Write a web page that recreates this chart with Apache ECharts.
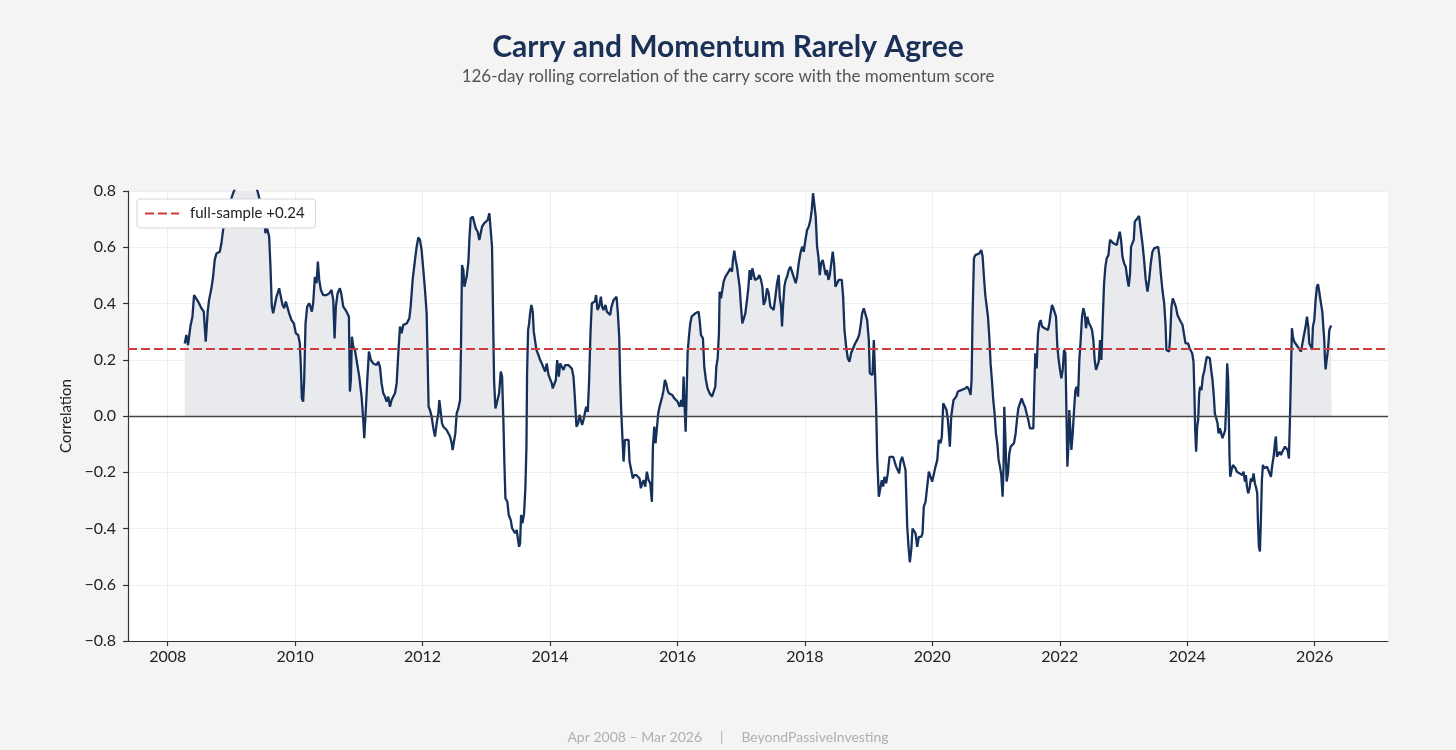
<!DOCTYPE html>
<html>
<head>
<meta charset="utf-8">
<title>Carry and Momentum Rarely Agree</title>
<script src="https://cdn.jsdelivr.net/npm/echarts@6/dist/echarts.min.js"></script>
<style>
  html, body { margin: 0; padding: 0; background: #f4f4f4; }
  #chart { width: 1456px; height: 750px; }
</style>
</head>
<body>
<div id="chart"></div>
<script>
// dates as decimal years
const years = [
  2008.267, 2008.293, 2008.319, 2008.335, 2008.356, 2008.388, 2008.414, 2008.440, 2008.477, 2008.529,
  2008.566, 2008.587, 2008.597, 2008.613, 2008.628, 2008.649, 2008.670, 2008.686, 2008.712, 2008.738,
  2008.765, 2008.817, 2008.843, 2008.869, 2008.922, 2008.974, 2009.026, 2009.079, 2009.158, 2009.236,
  2009.314, 2009.382, 2009.419, 2009.456, 2009.498, 2009.534, 2009.561, 2009.592, 2009.613, 2009.634,
  2009.655, 2009.681, 2009.707, 2009.749, 2009.775, 2009.802, 2009.828, 2009.854, 2009.875, 2009.906,
  2009.943, 2009.980, 2010.011, 2010.048, 2010.074, 2010.090, 2010.105, 2010.126, 2010.142, 2010.163,
  2010.189, 2010.220, 2010.241, 2010.262, 2010.283, 2010.310, 2010.336, 2010.357, 2010.378, 2010.404,
  2010.440, 2010.493, 2010.535, 2010.571, 2010.598, 2010.619, 2010.639, 2010.666, 2010.702, 2010.728,
  2010.755, 2010.781, 2010.807, 2010.844, 2010.859, 2010.875, 2010.891, 2010.912, 2010.938, 2010.964,
  2011.006, 2011.043, 2011.069, 2011.085, 2011.106, 2011.132, 2011.158, 2011.189, 2011.226, 2011.252,
  2011.278, 2011.305, 2011.331, 2011.357, 2011.383, 2011.409, 2011.436, 2011.462, 2011.488, 2011.514,
  2011.540, 2011.567, 2011.593, 2011.619, 2011.645, 2011.671, 2011.697, 2011.750, 2011.792, 2011.813,
  2011.844, 2011.881, 2011.907, 2011.933, 2011.959, 2011.985, 2012.012, 2012.038, 2012.064,
  2012.095, 2012.116, 2012.142, 2012.169, 2012.195, 2012.221, 2012.247, 2012.263, 2012.284, 2012.305,
  2012.326, 2012.352, 2012.378, 2012.404, 2012.431, 2012.457, 2012.472, 2012.493, 2012.514, 2012.535,
  2012.561, 2012.588, 2012.603, 2012.619, 2012.640, 2012.656, 2012.677, 2012.692, 2012.719, 2012.734,
  2012.755, 2012.787, 2012.813, 2012.834, 2012.865, 2012.891, 2012.912, 2012.933, 2012.965, 2012.996,
  2013.022, 2013.048, 2013.069, 2013.090, 2013.106, 2013.122, 2013.143, 2013.164, 2013.185, 2013.201,
  2013.227, 2013.248, 2013.268, 2013.284, 2013.300, 2013.331, 2013.352, 2013.384, 2013.405, 2013.425,
  2013.452, 2013.478, 2013.494, 2013.515, 2013.530, 2013.546, 2013.567, 2013.593, 2013.614, 2013.630,
  2013.640, 2013.656, 2013.672, 2013.687, 2013.708, 2013.729, 2013.745, 2013.766, 2013.787, 2013.818,
  2013.845, 2013.871, 2013.897, 2013.923, 2013.949, 2013.976, 2014.002, 2014.028, 2014.043, 2014.070,
  2014.091, 2014.112, 2014.138, 2014.159, 2014.185, 2014.211, 2014.237, 2014.263, 2014.290, 2014.316,
  2014.342, 2014.368, 2014.389, 2014.415, 2014.442, 2014.463, 2014.483, 2014.504, 2014.525, 2014.546,
  2014.567, 2014.593, 2014.614, 2014.635, 2014.656, 2014.683, 2014.703, 2014.724, 2014.745, 2014.771,
  2014.798, 2014.818, 2014.839, 2014.871, 2014.892, 2014.918, 2014.944, 2014.965, 2014.997, 2015.023,
  2015.044, 2015.065, 2015.086, 2015.101, 2015.117, 2015.138, 2015.154, 2015.175, 2015.206, 2015.232,
  2015.248, 2015.274, 2015.300, 2015.321, 2015.353, 2015.384, 2015.405, 2015.426, 2015.447, 2015.468,
  2015.494, 2015.520, 2015.547, 2015.573, 2015.599, 2015.615, 2015.636, 2015.656, 2015.677, 2015.698,
  2015.719, 2015.740, 2015.761, 2015.782, 2015.803, 2015.824, 2015.845, 2015.866, 2015.887, 2015.918,
  2015.950, 2015.981, 2016.002, 2016.034,
  2016.060, 2016.081, 2016.096, 2016.107, 2016.117, 2016.128, 2016.143, 2016.159, 2016.180, 2016.201,
  2016.222, 2016.253, 2016.280, 2016.306, 2016.332, 2016.348, 2016.369, 2016.384, 2016.400, 2016.421,
  2016.447, 2016.473, 2016.505, 2016.542, 2016.573, 2016.594, 2016.610, 2016.631, 2016.651, 2016.662,
  2016.683, 2016.704, 2016.725, 2016.751, 2016.777, 2016.803, 2016.830, 2016.856, 2016.871, 2016.892,
  2016.913, 2016.934, 2016.955, 2016.976, 2016.997, 2017.018, 2017.039, 2017.065, 2017.091, 2017.112,
  2017.133, 2017.154, 2017.175, 2017.196, 2017.217, 2017.238, 2017.259, 2017.285, 2017.311, 2017.332,
  2017.353, 2017.380, 2017.406, 2017.432, 2017.458, 2017.484, 2017.510, 2017.537, 2017.563, 2017.589,
  2017.605, 2017.626, 2017.641, 2017.657, 2017.678, 2017.699, 2017.720, 2017.746, 2017.772, 2017.798,
  2017.824, 2017.856, 2017.877, 2017.903, 2017.929, 2017.956, 2017.982, 2018.008, 2018.034, 2018.060,
  2018.086, 2018.107, 2018.128, 2018.149, 2018.170, 2018.191, 2018.212, 2018.233, 2018.254, 2018.280,
  2018.306, 2018.327, 2018.348, 2018.369, 2018.390, 2018.411, 2018.437, 2018.458, 2018.479, 2018.505,
  2018.532, 2018.558, 2018.579, 2018.600, 2018.621, 2018.647, 2018.673, 2018.699, 2018.725, 2018.757,
  2018.788, 2018.819, 2018.851, 2018.872, 2018.898, 2018.924, 2018.951, 2018.977, 2019.003, 2019.019,
  2019.040, 2019.061, 2019.082, 2019.097, 2019.118, 2019.134, 2019.160, 2019.186, 2019.207, 2019.228,
  2019.249, 2019.275, 2019.301, 2019.328, 2019.354, 2019.385, 2019.411, 2019.432, 2019.459, 2019.480,
  2019.500, 2019.527, 2019.553, 2019.579,
  2019.590, 2019.606, 2019.626, 2019.647, 2019.669, 2019.689, 2019.710, 2019.736, 2019.763, 2019.788,
  2019.826, 2019.846, 2019.866, 2019.893, 2019.920, 2019.945, 2019.972, 2019.998, 2020.024, 2020.050,
  2020.077, 2020.102, 2020.129, 2020.149, 2020.171, 2020.192, 2020.223, 2020.244, 2020.275, 2020.297,
  2020.317, 2020.333, 2020.354, 2020.375, 2020.401, 2020.427, 2020.454, 2020.485, 2020.516, 2020.548,
  2020.579, 2020.600, 2020.616, 2020.632, 2020.653, 2020.674, 2020.705, 2020.736, 2020.768, 2020.789,
  2020.810, 2020.831, 2020.852, 2020.873, 2020.894, 2020.914, 2020.935, 2020.956, 2020.977, 2020.998,
  2021.019, 2021.040, 2021.061, 2021.082, 2021.103, 2021.119, 2021.129, 2021.145, 2021.166, 2021.187,
  2021.208, 2021.229, 2021.255, 2021.281, 2021.307, 2021.328, 2021.349, 2021.375, 2021.402, 2021.428,
  2021.454, 2021.480, 2021.506, 2021.532, 2021.559, 2021.585, 2021.601, 2021.616, 2021.637, 2021.658,
  2021.679, 2021.700, 2021.721, 2021.742, 2021.763, 2021.789, 2021.815, 2021.836, 2021.857, 2021.878,
  2021.899, 2021.920, 2021.941, 2021.962, 2021.983, 2022.004, 2022.025, 2022.046, 2022.067, 2022.088,
  2022.103, 2022.119, 2022.135, 2022.150, 2022.166, 2022.182, 2022.203, 2022.224, 2022.245, 2022.266,
  2022.287, 2022.307, 2022.328, 2022.349, 2022.370, 2022.391, 2022.412, 2022.433, 2022.459, 2022.486,
  2022.506, 2022.527, 2022.548, 2022.569, 2022.590, 2022.611, 2022.632, 2022.653, 2022.674, 2022.695,
  2022.716, 2022.737, 2022.763, 2022.789, 2022.815, 2022.842, 2022.868, 2022.894, 2022.920, 2022.941,
  2022.962, 2022.983, 2023.009, 2023.035, 2023.062, 2023.082, 2023.103, 2023.119, 2023.140, 2023.161,
  2023.177, 2023.198, 2023.219, 2023.245, 2023.271, 2023.297, 2023.323, 2023.349, 2023.376, 2023.402,
  2023.428, 2023.454, 2023.481, 2023.512, 2023.543, 2023.564, 2023.585, 2023.611, 2023.638, 2023.659,
  2023.674, 2023.695, 2023.716, 2023.732, 2023.753, 2023.774, 2023.795, 2023.821, 2023.847, 2023.873,
  2023.899,
  2023.926, 2023.952, 2023.973, 2023.994, 2024.015, 2024.036, 2024.057, 2024.078, 2024.099, 2024.114,
  2024.125, 2024.140, 2024.156, 2024.172, 2024.188, 2024.203, 2024.224, 2024.245, 2024.266, 2024.287,
  2024.308, 2024.334, 2024.355, 2024.376, 2024.397, 2024.418, 2024.434, 2024.455, 2024.476, 2024.491,
  2024.512, 2024.533, 2024.554, 2024.575, 2024.596, 2024.612, 2024.627, 2024.643, 2024.654, 2024.664,
  2024.675, 2024.696, 2024.717, 2024.738, 2024.758, 2024.779, 2024.800, 2024.821, 2024.842, 2024.863,
  2024.884, 2024.905, 2024.921, 2024.937, 2024.957, 2024.978, 2024.999, 2025.020, 2025.041, 2025.062,
  2025.083, 2025.099, 2025.109, 2025.125, 2025.141, 2025.156, 2025.172, 2025.188, 2025.209, 2025.230,
  2025.251, 2025.272, 2025.293, 2025.314, 2025.335, 2025.356, 2025.376, 2025.392, 2025.408, 2025.429,
  2025.450, 2025.471, 2025.492, 2025.513, 2025.534, 2025.555, 2025.575, 2025.596, 2025.612, 2025.628,
  2025.643, 2025.659, 2025.680, 2025.706, 2025.733, 2025.759, 2025.785, 2025.811, 2025.827, 2025.842,
  2025.858, 2025.879, 2025.900, 2025.916, 2025.942, 2025.958, 2025.973, 2025.994, 2026.015, 2026.036,
  2026.052, 2026.068, 2026.083, 2026.104, 2026.120, 2026.136, 2026.151, 2026.162, 2026.172, 2026.188,
  2026.209, 2026.230, 2026.251, 2026.267
];

// 126-day rolling correlation, one value per date above
const corr = [
  0.258, 0.288, 0.252, 0.258, 0.318, 0.353, 0.430, 0.424, 0.407, 0.383,
  0.371, 0.365, 0.264, 0.264, 0.371, 0.412, 0.407, 0.454, 0.495, 0.555,
  0.578, 0.584, 0.614, 0.661, 0.709, 0.756, 0.792, 0.820, 0.860, 0.870,
  0.850, 0.820, 0.792, 0.756, 0.732, 0.650, 0.667, 0.638, 0.531, 0.389,
  0.365, 0.371, 0.424, 0.454, 0.448, 0.395, 0.383, 0.407, 0.401, 0.365,
  0.341, 0.329, 0.294, 0.288, 0.258, 0.175, 0.063, 0.051, 0.128, 0.329,
  0.389, 0.401, 0.389, 0.371, 0.401, 0.495, 0.472, 0.549, 0.484, 0.448,
  0.430, 0.430, 0.436, 0.448, 0.412, 0.276, 0.389, 0.436, 0.454, 0.430,
  0.389, 0.389, 0.371, 0.353, 0.087, 0.128, 0.282, 0.247, 0.235, 0.199,
  0.140, 0.069, -0.014, -0.079, 0.009, 0.128, 0.229, 0.199, 0.187, 0.193,
  0.181, 0.193, 0.175, 0.116, 0.081, 0.069, 0.051, 0.069, 0.033, 0.057,
  0.069, 0.081, 0.116, 0.223, 0.318, 0.294, 0.324, 0.329, 0.347, 0.389,
  0.484, 0.555, 0.602, 0.635, 0.626, 0.590, 0.519, 0.448, 0.365,
  0.033, 0.021, -0.002, -0.044, -0.073, -0.026, 0.009, 0.057, 0.051, -0.026,
  -0.038, -0.032, -0.050, -0.056, -0.073, -0.097, -0.121, -0.091, -0.062, 0.009,
  0.027, 0.057, 0.247, 0.537, 0.519, 0.460, 0.454, 0.495, 0.549, 0.626,
  0.703, 0.709, 0.703, 0.667, 0.655, 0.626, 0.620, 0.673, 0.685, 0.679,
  0.697, 0.721, 0.715, 0.602, 0.365, 0.128, 0.027, 0.045, 0.051, 0.081,
  0.158, 0.140, -0.014, -0.168, -0.293, -0.305, -0.352, -0.370, -0.399, -0.399,
  -0.417, -0.405, -0.435, -0.465, -0.453, -0.352, -0.382, -0.346, -0.251, -0.109,
  0.152, 0.306, 0.329, 0.365, 0.395, 0.371, 0.300, 0.294, 0.235, 0.217,
  0.199, 0.187, 0.181, 0.158, 0.187, 0.146, 0.140, 0.116, 0.098, 0.098,
  0.128, 0.199, 0.140, 0.187, 0.175, 0.164, 0.181, 0.187, 0.181, 0.187,
  0.169, 0.140, 0.069, -0.038, -0.026, 0.004, 0.009, -0.032, -0.014, 0.009,
  0.033, 0.015, 0.128, 0.294, 0.401, 0.395, 0.407, 0.430, 0.377, 0.389,
  0.424, 0.389, 0.377, 0.395, 0.371, 0.365, 0.359, 0.389, 0.412, 0.418,
  0.424, 0.365, 0.282, 0.128, 0.021, -0.085, -0.162, -0.085, -0.079, -0.085,
  -0.162, -0.192, -0.222, -0.210, -0.210, -0.216, -0.222, -0.257, -0.239, -0.228,
  -0.251, -0.198, -0.228, -0.239, -0.305, -0.109, -0.038, -0.097, -0.044, 0.009,
  0.033, 0.027, 0.069, 0.092, 0.128, 0.116, 0.092, 0.081, 0.081, 0.075,
  0.063, 0.069, 0.051, 0.033,
  0.057, 0.033, 0.140, 0.146, 0.009, -0.056, 0.069, 0.223, 0.282, 0.329,
  0.353, 0.359, 0.365, 0.371, 0.371, 0.341, 0.288, 0.294, 0.276, 0.175,
  0.128, 0.098, 0.081, 0.069, 0.063, 0.104, 0.175, 0.205, 0.294, 0.442,
  0.418, 0.448, 0.478, 0.495, 0.495, 0.513, 0.525, 0.513, 0.555, 0.588,
  0.555, 0.531, 0.495, 0.460, 0.389, 0.329, 0.324, 0.365, 0.412, 0.454,
  0.519, 0.484, 0.525, 0.525, 0.484, 0.478, 0.489, 0.501, 0.484, 0.460,
  0.395, 0.412, 0.454, 0.436, 0.389, 0.383, 0.377, 0.424, 0.472, 0.501,
  0.424, 0.389, 0.318, 0.389, 0.460, 0.484, 0.495, 0.519, 0.531, 0.525,
  0.495, 0.472, 0.495, 0.543, 0.578, 0.602, 0.584, 0.626, 0.661, 0.673,
  0.697, 0.732, 0.792, 0.786, 0.709, 0.602, 0.567, 0.501, 0.543, 0.555,
  0.549, 0.501, 0.519, 0.484, 0.501, 0.537, 0.584, 0.543, 0.460, 0.466,
  0.484, 0.478, 0.484, 0.424, 0.306, 0.247, 0.205, 0.193, 0.223, 0.241,
  0.258, 0.270, 0.288, 0.318, 0.365, 0.383, 0.377, 0.341, 0.270, 0.152,
  0.152, 0.146, 0.270, 0.175, 0.033, -0.145, -0.287, -0.293, -0.228, -0.251,
  -0.216, -0.239, -0.204, -0.145, -0.139, -0.145, -0.145, -0.180, -0.180, -0.204,
  -0.162, -0.145, -0.151, -0.192,
  -0.275, -0.394, -0.465, -0.520, -0.476, -0.400, -0.400, -0.417, -0.465, -0.430,
  -0.430, -0.417, -0.322, -0.305, -0.300, -0.198, -0.204, -0.233, -0.227, -0.180,
  -0.157, -0.085, -0.097, -0.074, 0.045, 0.045, 0.021, -0.014, -0.109, 0.000,
  0.033, 0.057, 0.063, 0.069, 0.087, 0.092, 0.092, 0.098, 0.098, 0.104,
  0.092, 0.075, 0.128, 0.365, 0.561, 0.572, 0.578, 0.578, 0.590, 0.567,
  0.495, 0.430, 0.424, 0.353, 0.282, 0.187, 0.128, 0.057, 0.009, -0.062,
  -0.097, -0.156, -0.180, -0.210, -0.287, -0.168, 0.033, -0.062, -0.233, -0.204,
  -0.133, -0.109, -0.103, -0.097, -0.062, -0.014, 0.027, 0.045, 0.063, 0.045,
  0.033, 0.009, -0.014, -0.044, -0.044, -0.044, 0.104, 0.223, 0.169, 0.294,
  0.329, 0.341, 0.318, 0.324, 0.312, 0.318, 0.306, 0.329, 0.365, 0.395,
  0.383, 0.377, 0.353, 0.247, 0.199, 0.164, 0.134, 0.164, 0.235, 0.223,
  0.033, -0.180, -0.109, 0.021, 0.027, -0.121, -0.062, 0.021, 0.092, 0.104,
  0.069, 0.199, 0.270, 0.353, 0.383, 0.365, 0.312, 0.353, 0.329, 0.318,
  0.306, 0.270, 0.199, 0.164, 0.158, 0.193, 0.270, 0.199, 0.341, 0.472,
  0.531, 0.561, 0.572, 0.626, 0.626, 0.614, 0.608, 0.608, 0.614, 0.655,
  0.626, 0.567, 0.543, 0.531, 0.484, 0.460, 0.507, 0.602, 0.596, 0.626,
  0.691, 0.697, 0.703, 0.711, 0.661, 0.614, 0.555, 0.484, 0.442, 0.484,
  0.543, 0.584, 0.596, 0.602, 0.602, 0.567, 0.507, 0.448, 0.401, 0.329,
  0.235, 0.229, 0.229, 0.282, 0.389, 0.418, 0.424, 0.389, 0.359, 0.347,
  0.335,
  0.324, 0.318, 0.258, 0.252, 0.258, 0.241, 0.235, 0.223, 0.193, 0.069,
  -0.050, -0.127, -0.038, -0.014, 0.081, 0.104, 0.092, 0.140, 0.158, 0.187,
  0.211, 0.217, 0.205, 0.164, 0.128, 0.069, 0.009, -0.008, -0.026, -0.062,
  -0.044, -0.038, -0.079, -0.073, -0.050, 0.045, 0.187, 0.128, -0.014, -0.145,
  -0.216, -0.192, -0.174, -0.180, -0.186, -0.198, -0.192, -0.204, -0.198, -0.210,
  -0.198, -0.233, -0.210, -0.251, -0.275, -0.257, -0.222, -0.233, -0.204, -0.239,
  -0.257, -0.275, -0.370, -0.465, -0.482, -0.370, -0.228, -0.174, -0.186, -0.186,
  -0.180, -0.192, -0.192, -0.216, -0.174, -0.145, -0.097, -0.073, -0.145, -0.139,
  -0.127, -0.139, -0.127, -0.133, -0.109, -0.103, -0.121, -0.151, -0.014, 0.152,
  0.312, 0.282, 0.264, 0.258, 0.247, 0.241, 0.229, 0.223, 0.282, 0.288,
  0.318, 0.353, 0.318, 0.258, 0.247, 0.235, 0.318, 0.341, 0.412, 0.460,
  0.469, 0.448, 0.424, 0.430, 0.371, 0.318, 0.270, 0.199, 0.166, 0.199,
  0.235, 0.306, 0.318, 0.320
];

const yearTicks = [2008, 2010, 2012, 2014, 2016, 2018, 2020, 2022, 2024, 2026];
const fullSample = 0.24;
const fullSampleLabel = 'full-sample +0.24';

const FONT = 'Lato, "Noto Sans", sans-serif';
const NAVY = '#15305a';
const RED = '#d13b3b';
// three short dashes for the legend handle
const DASH_ICON = 'path://M0,0h9v2h-9zM13,0h9v2h-9zM26,0h8v2h-8z';

const points = years.map((y, i) => [y, corr[i]]);

const chart = echarts.init(document.getElementById('chart'));

const option = {
    backgroundColor: '#f4f4f4',
    textStyle: { fontFamily: FONT },
    animation: false,
    title: [{
        text: 'Carry and Momentum Rarely Agree',
        subtext: '126-day rolling correlation of the carry score with the momentum score',
        left: 'center',
        top: 27,
        itemGap: 6,
        textStyle: { fontFamily: FONT, fontSize: 30, fontWeight: 'bold', color: '#1b3057' },
        subtextStyle: { fontFamily: FONT, fontSize: 17, color: '#555' }
    }, {
        text: 'Apr 2008 \u2013 Mar 2026     |     BeyondPassiveInvesting',
        left: 'center',
        top: 725,
        textStyle: { fontFamily: FONT, fontSize: 14, fontWeight: 'normal', color: '#b0b0b0' }
    }],
    grid: {
        left: 128,
        right: 68,
        top: 191,
        bottom: 109,
        show: true,
        backgroundColor: '#ffffff',
        borderWidth: 0
    },
    legend: {
        data: [{ name: fullSampleLabel, icon: DASH_ICON }],
        left: 137,
        top: 199,
        padding: [7, 11, 7, 8],
        itemWidth: 34,
        itemHeight: 2,
        itemGap: 8,
        backgroundColor: '#ffffff',
        borderColor: '#d6d6d6',
        borderWidth: 1,
        borderRadius: 3,
        itemStyle: { color: RED },
        textStyle: { fontFamily: FONT, fontSize: 15, color: '#222', padding: [0, 0, 0, 6] }
    },
    visualMap: {
        show: false,
        type: 'piecewise',
        seriesIndex: 0,
        dimension: 1,
        pieces: [
            { gt: 0, lte: 5, color: '#e8eaee' },
            { gt: -5, lte: 0, color: 'rgba(232, 234, 238, 0)' }
        ]
    },
    xAxis: {
        type: 'value',
        min: 2007.377,
        max: 2027.151,
        axisLine: { show: true, onZero: false, lineStyle: { color: '#333', width: 1.2 } },
        axisTick: { show: true, length: 5, customValues: yearTicks, lineStyle: { color: '#333', width: 1.2 } },
        axisLabel: {
            customValues: yearTicks,
            color: '#222',
            fontSize: 16,
            margin: 8,
            fontFamily: FONT,
            formatter: v => String(v)
        },
        splitLine: { show: true, lineStyle: { color: '#eeeeee', width: 1 } }
    },
    yAxis: {
        type: 'value',
        min: -0.8,
        max: 0.8,
        interval: 0.2,
        name: 'Correlation',
        nameLocation: 'middle',
        nameGap: 53,
        nameTextStyle: { fontSize: 15, color: '#222', fontFamily: FONT },
        axisLine: { show: true, lineStyle: { color: '#333', width: 1.2 } },
        axisTick: { show: true, length: 5, lineStyle: { color: '#333', width: 1.2 } },
        axisLabel: {
            color: '#222',
            fontSize: 16,
            margin: 12,
            fontFamily: FONT,
            formatter: v => v.toFixed(1).replace('-', '\u2212')
        },
        splitLine: { show: true, lineStyle: { color: '#eeeeee', width: 1 } }
    },
    series: [{
        // positive fill only, coloured through the visualMap
        name: 'fill',
        type: 'line',
        data: points,
        showSymbol: false,
        silent: true,
        z: 1,
        lineStyle: { width: 0, opacity: 0 },
        areaStyle: { opacity: 1 },
        markLine: {
            silent: true,
            symbol: 'none',
            label: { show: false },
            lineStyle: { color: '#444', width: 1.3, type: 'solid' },
            data: [{ yAxis: 0 }]
        }
    }, {
        name: 'correlation',
        type: 'line',
        data: points,
        showSymbol: false,
        z: 3,
        lineStyle: { color: NAVY, width: 2.3 },
        itemStyle: { color: NAVY }
    }, {
        name: fullSampleLabel,
        type: 'line',
        data: [],
        symbol: 'none',
        z: 4,
        itemStyle: { color: RED },
        lineStyle: { color: RED, width: 2, type: [9, 4] },
        markLine: {
            silent: true,
            symbol: 'none',
            label: { show: false },
            lineStyle: { color: RED, width: 2, type: [9, 4] },
            data: [{ yAxis: fullSample }]
        }
    }]
};

chart.setOption(option);
</script>
</body>
</html>
